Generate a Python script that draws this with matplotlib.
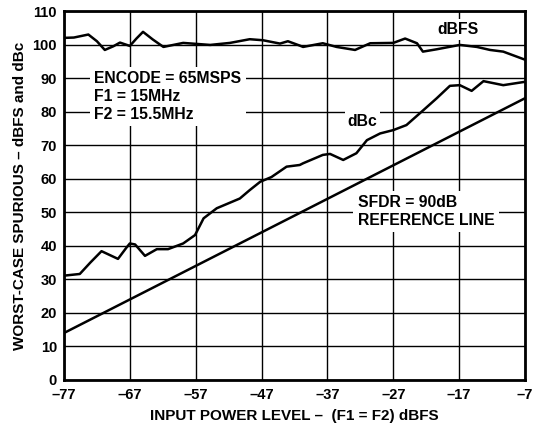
import matplotlib
matplotlib.use("Agg")
import matplotlib.pyplot as plt
import numpy as np

plt.rcParams['font.family'] = ['Liberation Sans', 'DejaVu Sans']
plt.rcParams['font.weight'] = 'bold'

# dBFS curve
dbfs_x = [-77, -75.5, -73.3, -72, -70.8, -69.5, -68.5, -67, -66, -65, -63.5, -61.9, -58.9, -54.8,
          -51.8, -48.8, -46.8, -44.2, -43, -41.2, -40.7, -37.7, -35.6, -32.8, -30.5, -27, -25.2,
          -23.4, -22.5, -20.4, -16.9, -14.3, -12.3, -10.3, -7]
dbfs_y = [102.0, 102.1, 103.0, 101.0, 98.4, 99.5, 100.6, 99.6, 101.8, 103.8, 101.5, 99.3, 100.5, 99.9,
          100.5, 101.6, 101.3, 100.3, 101.0, 99.7, 99.3, 100.4, 99.3, 98.4, 100.4, 100.5, 101.8,
          100.4, 97.9, 98.6, 99.9, 99.3, 98.4, 97.9, 95.5]

# dBc curve
dbc_x = [-77, -74.6, -73, -71.3, -68.8, -67.5, -67, -66.2, -64.7, -62.9, -61.2, -58.9, -57.1, -56.5,
         -55.8, -53.8, -50.3, -48.8, -47.2, -45.5, -43.2, -41.2, -40.7, -37.7, -36.6, -34.6, -32.6,
         -31, -29, -27, -25, -22.4, -20.4, -18.4, -16.9, -15.1, -13.3, -10.3, -7]
dbc_y = [31.1, 31.6, 35.0, 38.4, 36.1, 39.5, 40.7, 40.4, 37.0, 39.0, 39.0, 40.7, 43.2, 45.5,
         48.2, 51.2, 54.1, 56.6, 59.1, 60.5, 63.6, 64.1, 64.6, 67.1, 67.4, 65.6, 67.6,
         71.5, 73.5, 74.5, 76.0, 80.5, 84.0, 87.7, 87.9, 86.2, 89.1, 87.9, 88.9]

# SFDR = 90dB reference line
ref_x = [-77, -7]
ref_y = [14, 84]

xticks = [-77, -67, -57, -47, -37, -27, -17, -7]
xtick_labels = ['\u201377', '\u201367', '\u201357', '\u201347', '\u201337', '\u201327', '\u201317', '\u20137']
yticks = list(range(0, 111, 10))

fig = plt.figure(figsize=(5.39, 4.25), dpi=100)
ax = fig.add_axes([0.1187, 0.106, 0.8553, 0.868])

ax.plot(dbfs_x, dbfs_y, color='black', lw=1.8, zorder=3, solid_joinstyle='round')
ax.plot(dbc_x, dbc_y, color='black', lw=1.8, zorder=3, solid_joinstyle='round')
ax.plot(ref_x, ref_y, color='black', lw=1.8, zorder=3)

ax.set_xlim(-77, -7)
ax.set_ylim(0, 110)
ax.set_xticks(xticks)
ax.set_xticklabels(xtick_labels)
ax.set_yticks(yticks)
ax.grid(True, color='black', lw=1.0)
ax.set_axisbelow(True)
ax.tick_params(axis='x', length=0, labelsize=10.5, pad=6)
ax.tick_params(axis='y', length=0, labelsize=10.5, pad=5)
for lab in ax.get_xticklabels() + ax.get_yticklabels():
    lab.set_fontweight('bold')
for s in ax.spines.values():
    s.set_linewidth(2.0)

ax.set_xlabel('INPUT POWER LEVEL \u2013  (F1 = F2) dBFS', fontsize=11, fontweight='bold', labelpad=5)
ax.set_ylabel('WORST-CASE SPURIOUS \u2013 dBFS and dBc', fontsize=11, fontweight='bold', labelpad=4)

box = dict(facecolor='white', edgecolor='none', pad=3)
ax.text(-72.4, 84.5, 'ENCODE = 65MSPS\nF1 = 15MHz\nF2 = 15.5MHz', fontsize=11.3, fontweight='bold',
        va='center', ha='left', linespacing=1.25, bbox=box, zorder=4)
ax.text(-32.4, 50.2, 'SFDR = 90dB\nREFERENCE LINE', fontsize=11.3, fontweight='bold',
        va='center', ha='left', linespacing=1.2, bbox=box, zorder=4)
ax.text(-17.2, 104.5, 'dBFS', fontsize=11.3, fontweight='bold', va='center', ha='center',
        bbox=dict(facecolor='white', edgecolor='none', pad=2), zorder=4)
ax.text(-31.7, 77, 'dBc', fontsize=11.3, fontweight='bold', va='center', ha='center',
        bbox=dict(facecolor='white', edgecolor='none', pad=2), zorder=4)

fig.savefig('out.png', dpi=100)
